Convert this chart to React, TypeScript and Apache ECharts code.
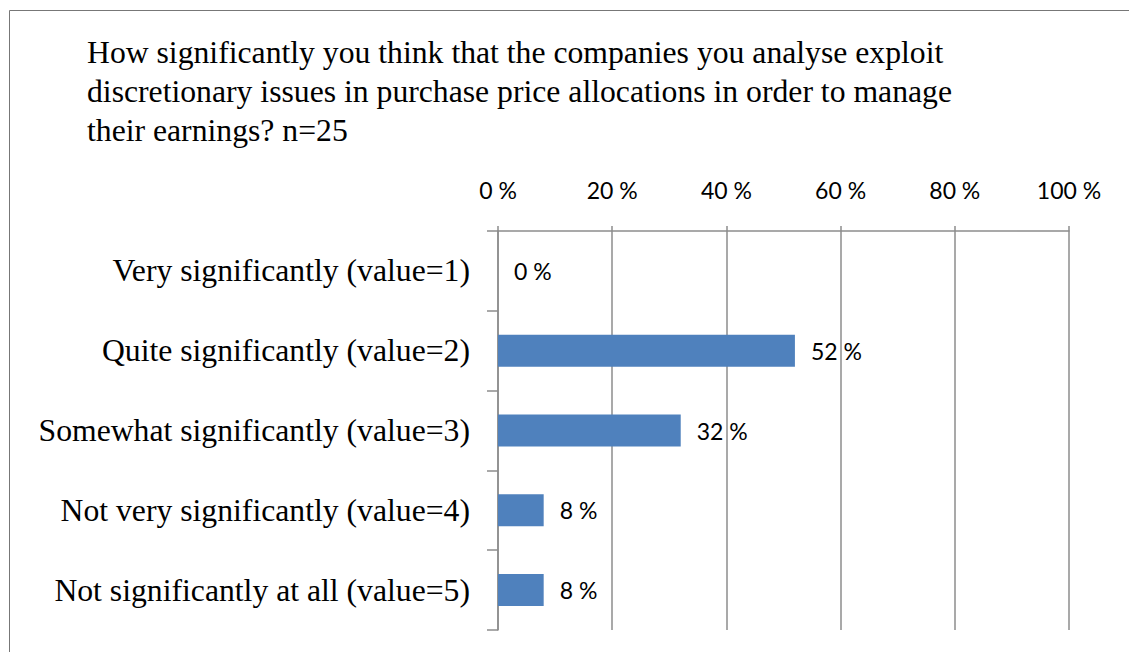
import React, { useEffect, useRef } from "react";
import * as echarts from "echarts";

const titleLines = [
  "How significantly you think that the companies you analyse exploit",
  "discretionary issues in purchase price allocations in order to manage",
  "their earnings? n=25",
];
const categories = [
  "Very significantly (value=1)",
  "Quite significantly (value=2)",
  "Somewhat significantly (value=3)",
  "Not very significantly (value=4)",
  "Not significantly at all (value=5)",
];
const values = [0, 52, 32, 8, 8];
const tickValues = [0, 20, 40, 60, 80, 100];

export default function App() {
  const ref = useRef<HTMLDivElement>(null);
  useEffect(() => {
    if (!ref.current) return;
    const chart = echarts.init(ref.current, undefined, { renderer: "svg" });
    const gray = "#8c8c8c";
    chart.setOption({
      animation: false,
      backgroundColor: "#ffffff",
      title: {
        text: titleLines.join("\n"),
        left: 87,
        top: 33,
        padding: 0,
        textStyle: {
          fontFamily: "'Liberation Serif', 'Times New Roman', serif",
          fontSize: 31.7,
          fontWeight: "normal",
          color: "#000",
          lineHeight: 39,
        },
      },
      graphic: [
        { type: "line", shape: { x1: 9.5, y1: 10.5, x2: 1129, y2: 10.5 }, style: { stroke: "#777", lineWidth: 1 } },
        { type: "line", shape: { x1: 9.5, y1: 10.5, x2: 9.5, y2: 652 }, style: { stroke: "#777", lineWidth: 1 } },
      ],
      grid: { left: 498, right: 60, top: 231, bottom: 22, containLabel: false },
      xAxis: {
        type: "value",
        position: "top",
        min: tickValues[0],
        max: tickValues[tickValues.length - 1],
        interval: 20,
        axisLine: { show: true, lineStyle: { color: gray, width: 1.5 } },
        axisTick: { show: true, length: 5, lineStyle: { color: gray, width: 1.5 } },
        splitLine: { show: true, lineStyle: { color: gray, width: 1.5 } },
        axisLabel: {
          margin: 30,
          formatter: "{value} %",
          fontFamily: "Lato, 'Open Sans', sans-serif",
          fontSize: 23,
          color: "#000",
        },
      },
      yAxis: {
        type: "category",
        data: categories,
        inverse: true,
        axisLine: { show: true, lineStyle: { color: gray, width: 1.5 } },
        axisTick: { show: true, length: 11, lineStyle: { color: gray, width: 1.5 } },
        axisLabel: {
          margin: 28,
          fontFamily: "'Liberation Serif', 'Times New Roman', serif",
          fontSize: 31.7,
          color: "#000",
        },
      },
      series: [
        {
          type: "bar",
          data: values,
          barWidth: 32,
          itemStyle: { color: "#4f81bd" },
          label: {
            show: true,
            position: "right",
            distance: 16,
            formatter: "{c} %",
            fontFamily: "Lato, 'Open Sans', sans-serif",
            fontSize: 23,
            color: "#000",
          },
        },
      ],
    });
    return () => chart.dispose();
  }, []);
  return (
    <div
      ref={ref}
      style={{ position: "fixed", left: 0, top: 0, width: 1129, height: 652, background: "#fff" }}
    />
  );
}
